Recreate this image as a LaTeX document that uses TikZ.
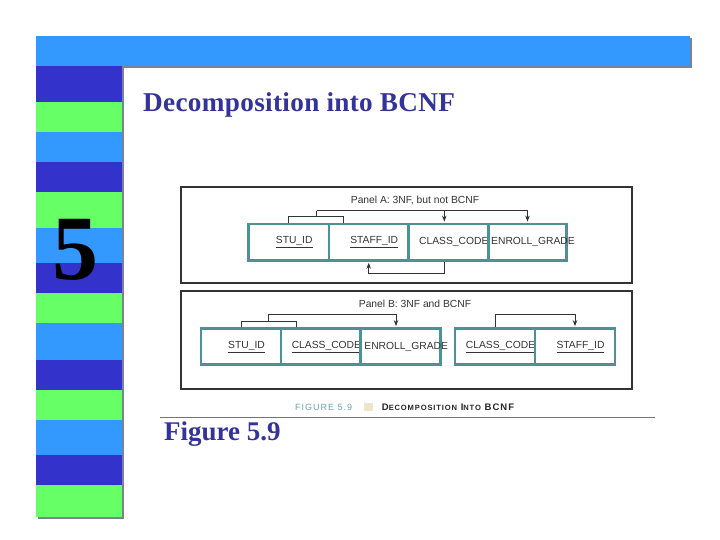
\documentclass[tikz,border=0pt]{standalone}
\usepackage{fontspec}
\setmainfont{Liberation Serif}
\newfontfamily\panelfont{Liberation Sans}
\newfontfamily\capfont[LetterSpace=11]{Liberation Sans}
\newfontfamily\titlefont[LetterSpace=1.2]{Liberation Serif}
\usetikzlibrary{calc,arrows.meta}
\definecolor{lblue}{HTML}{3399FF}
\definecolor{dblue}{HTML}{3333CC}
\definecolor{lgreen}{HTML}{66FF66}
\definecolor{titleblue}{HTML}{333399}
\definecolor{shadowgray}{HTML}{808090}
\definecolor{teal}{HTML}{4E9098}
\definecolor{capteal}{HTML}{6AA8AE}
\definecolor{beige}{HTML}{EFE6C8}
\tikzset{
  cell/.style={draw=teal, line width=2.6pt, minimum height=36pt, inner sep=0pt,
    font=\panelfont\fontsize{10.3}{11}\selectfont, text=black!80},
  panel/.style={draw=black!80, line width=1.3pt},
  conn/.style={draw=black!80, line width=0.8pt},
  arr/.style={conn, -{Stealth[length=6pt,width=4.5pt]}, shorten >=1.3pt},
  plabel/.style={font=\panelfont\fontsize{10.3}{11}\selectfont, text=black!80},
}
\newcommand{\ct}[1]{\makebox[0pt][c]{\hspace*{11pt}#1}}
\newcommand{\ul}[1]{\underline{#1}}
\begin{document}
\begin{tikzpicture}[x=1pt,y=-1pt]
\useasboundingbox (0,0) rectangle (720,540);
\fill[white] (0,0) rectangle (720,540);
% shadows
\fill[shadowgray] (38,38) rectangle (692,68);
\fill[shadowgray] (38,68) rectangle (124,519);
% top bar
\fill[lblue] (36,36) rectangle (690,66);
% stripes
\foreach \ya/\yb/\c in {66/101.7/dblue,101.7/131.7/lgreen,131.7/161.7/lblue,
  161.7/191.7/dblue,191.7/228.3/lgreen,228.3/263.3/lblue,263.3/293.3/dblue,
  293.3/323.3/lgreen,323.3/360/lblue,360/390/dblue,390/420/lgreen,420/455/lblue,
  455/485/dblue,485/516.7/lgreen}
  \fill[\c] (36,\ya) rectangle (122,\yb);
% chapter number
\node[font=\fontsize{92}{92}\selectfont\bfseries] (num) at (75,250) {5};
% title
\node[anchor=base west, inner sep=0pt, text=titleblue,
  font=\titlefont\fontsize{27.2}{29}\selectfont\bfseries] (title) at (143,111.7) {Decomposition into BCNF};
% panels
\draw[panel] (181,187) rectangle (632,283);
\draw[panel] (181,291) rectangle (632,389);
\node[plabel] (pa) at (415,200.7) {Panel A: 3NF, but not BCNF};
\node[plabel] (pb) at (415,304.3) {Panel B: 3NF and BCNF};
% Panel A cells
\node[cell, minimum width=80.7pt] (a1) at (288.7,242.2) {\ct{\ul{STU\_ID}}};
\node[cell, minimum width=79.3pt] (a2) at (368.7,242.2) {\ct{\ul{STAFF\_ID}}};
\node[cell, minimum width=80pt] (a3) at (448.3,242.2) {\ct{CLASS\_CODE}};
\node[cell, minimum width=78.4pt] (a4) at (527.5,242.2) {\ct{ENROLL\_GRADE}};
% Panel A connectors
\coordinate (ja) at (316.7,216.7);
\coordinate (ta) at (316.7,210.7);
\draw[conn] (a1.north) -- (a1.north |- ja) -| ($(a2.north west)+(16,0)$);
\draw[conn] (ja) -- (ta);
\draw[arr] (ta) -| (a4.north);
\draw[arr] (ta) -| ([xshift=-4pt]a3.north);
\coordinate (ba) at (444.3,273.3);
\draw[arr] ([xshift=-4pt]a3.south) -- (ba) -| (a2.south);
% Panel B cells
\node[cell, minimum width=80pt] (b1) at (241,346.7) {\ct{\ul{STU\_ID}}};
\node[cell, minimum width=79.7pt] (b2) at (320.9,346.7) {\ct{\ul{CLASS\_CODE}}};
\node[cell, minimum width=80pt] (b3) at (400.7,346.7) {\ct{ENROLL\_GRADE}};
\node[cell, minimum width=80pt] (c1) at (495,346.7) {\ct{\ul{CLASS\_CODE}}};
\node[cell, minimum width=80pt] (c2) at (575,346.7) {\ct{\ul{STAFF\_ID}}};
% Panel B connectors
\coordinate (jb) at (268.3,321);
\coordinate (tb) at (268.3,314.3);
\draw[conn] (b1.north) -- (b1.north |- jb) -| ($(b2.north west)+(16.3,0)$);
\draw[conn] (jb) -- (tb);
\draw[arr] (tb) -| ([xshift=-4.7pt]b3.north);
\coordinate (tc) at (495,314.3);
\draw[conn] (c1.north) -- (tc);
\draw[arr] (tc) -| (c2.north);
% caption
\node[text=capteal, anchor=west, inner sep=0pt, font=\capfont\fontsize{9}{9}\selectfont] (figno) at (295,407) {FIGURE 5.9};
\fill[beige] (364,402.5) rectangle (373,411);
\node[anchor=west, inner sep=0pt, text=black!85, font=\capfont\bfseries\fontsize{9.5}{9.5}\selectfont] (capt) at (381.7,407)
  {D{\fontsize{7.6}{8}\selectfont ECOMPOSITION} I{\fontsize{7.6}{8}\selectfont NTO} BCNF};
\draw[black!55, line width=0.8pt] (160,417.3) -- (655,417.3);
% figure label
\node[anchor=base west, inner sep=0pt, text=titleblue,
  font=\fontsize{27}{29}\selectfont\bfseries] (figlabel) at (164,440) {Figure 5.9};
\end{tikzpicture}
\end{document}
